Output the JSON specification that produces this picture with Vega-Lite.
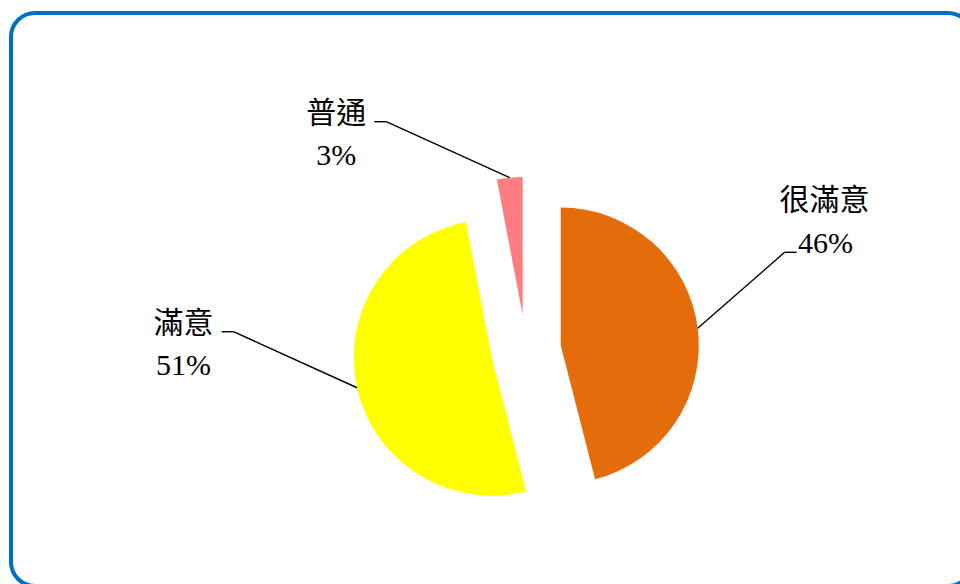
{
  "$schema": "https://vega.github.io/schema/vega-lite/v6.json",
  "width": 961,
  "height": 573,
  "autosize": {"type": "none"},
  "padding": {"left": 11, "top": 13, "right": 0, "bottom": 0},
  "background": "white",
  "config": {"view": {"stroke": "#0070C0", "strokeWidth": 4, "cornerRadius": 24}},
  "data": {"values": [
    {"category": "很滿意", "pct": 46},
    {"category": "滿意", "pct": 51},
    {"category": "普通", "pct": 3}
  ]},
  "transform": [
    {"window": [{"op": "row_number", "as": "idx"}]},
    {"joinaggregate": [{"op": "sum", "field": "pct", "as": "total"}]},
    {"window": [{"op": "sum", "field": "pct", "as": "cum"}], "sort": [{"field": "idx"}], "frame": [null, 0]},
    {"calculate": "datum.cum - datum.pct", "as": "start"},
    {"calculate": "2*PI*(datum.cum - datum.pct/2)/datum.total", "as": "mid"},
    {"calculate": "sin(datum.mid)", "as": "sx"},
    {"calculate": "cos(datum.mid)", "as": "sy"},
    {"calculate": "datum.sx >= 0 ? 1 : -1", "as": "side"},
    {"calculate": "0.254*datum.sx", "as": "ex"},
    {"calculate": "0.254*datum.sy", "as": "ey"},
    {"calculate": "1.254*datum.sx", "as": "px"},
    {"calculate": "1.254*datum.sy", "as": "py"},
    {"calculate": "datum.px + (datum.side > 0 ? 0.630 : -0.895)", "as": "qx"},
    {"calculate": "datum.py + (datum.side > 0 ? 0.551 : 0.406)", "as": "qy"},
    {"calculate": "datum.qx + datum.side*0.087", "as": "lx"},
    {"calculate": "datum.pct + '%'", "as": "pctLabel"}
  ],
  "layer": [
    {
      "mark": {"type": "arc", "outerRadius": 138, "stroke": null},
      "encoding": {
        "theta": {"field": "start", "type": "quantitative", "stack": null, "scale": {"domain": [0, 100]}},
        "theta2": {"field": "cum"},
        "x": {"field": "ex", "type": "quantitative", "stack": null, "axis": null, "scale": {"domain": [-3.732, 3.232], "nice": false, "zero": false}},
        "y": {"field": "ey", "type": "quantitative", "stack": null, "axis": null, "scale": {"domain": [-1.710, 2.442], "nice": false, "zero": false}},
        "color": {"field": "category", "type": "nominal", "legend": null, "scale": {"domain": ["很滿意", "滿意", "普通"], "range": ["#E46C0A", "#FFFF00", "#FF7C80"]}}
      }
    },
    {
      "mark": {"type": "rule", "color": "black", "strokeWidth": 1.4},
      "encoding": {
        "x": {"field": "px", "type": "quantitative", "stack": null, "axis": null, "scale": {"domain": [-3.732, 3.232], "nice": false, "zero": false}},
        "y": {"field": "py", "type": "quantitative", "stack": null, "axis": null, "scale": {"domain": [-1.710, 2.442], "nice": false, "zero": false}},
        "x2": {"field": "qx"},
        "y2": {"field": "qy"}
      }
    },
    {
      "mark": {"type": "rule", "color": "black", "strokeWidth": 1.4},
      "encoding": {
        "x": {"field": "qx", "type": "quantitative", "stack": null, "axis": null, "scale": {"domain": [-3.732, 3.232], "nice": false, "zero": false}},
        "y": {"field": "qy", "type": "quantitative", "stack": null, "axis": null, "scale": {"domain": [-1.710, 2.442], "nice": false, "zero": false}},
        "x2": {"field": "lx"}
      }
    },
    {
      "transform": [{"filter": "datum.side > 0"}],
      "mark": {"type": "text", "align": "center", "baseline": "middle", "dx": 28, "dy": -51, "font": "Noto Sans CJK TC", "fontSize": 30, "color": "black"},
      "encoding": {
        "x": {"field": "lx", "type": "quantitative", "stack": null, "axis": null, "scale": {"domain": [-3.732, 3.232], "nice": false, "zero": false}},
        "y": {"field": "qy", "type": "quantitative", "stack": null, "axis": null, "scale": {"domain": [-1.710, 2.442], "nice": false, "zero": false}},
        "text": {"field": "category"}
      }
    },
    {
      "transform": [{"filter": "datum.side > 0"}],
      "mark": {"type": "text", "align": "center", "baseline": "middle", "dx": 29, "dy": -8, "font": "Liberation Serif", "fontSize": 30, "color": "black"},
      "encoding": {
        "x": {"field": "lx", "type": "quantitative", "stack": null, "axis": null, "scale": {"domain": [-3.732, 3.232], "nice": false, "zero": false}},
        "y": {"field": "qy", "type": "quantitative", "stack": null, "axis": null, "scale": {"domain": [-1.710, 2.442], "nice": false, "zero": false}},
        "text": {"field": "pctLabel"}
      }
    },
    {
      "transform": [{"filter": "datum.side < 0"}],
      "mark": {"type": "text", "align": "center", "baseline": "middle", "dx": -38, "dy": -8, "font": "Noto Sans CJK TC", "fontSize": 30, "color": "black"},
      "encoding": {
        "x": {"field": "lx", "type": "quantitative", "stack": null, "axis": null, "scale": {"domain": [-3.732, 3.232], "nice": false, "zero": false}},
        "y": {"field": "qy", "type": "quantitative", "stack": null, "axis": null, "scale": {"domain": [-1.710, 2.442], "nice": false, "zero": false}},
        "text": {"field": "category"}
      }
    },
    {
      "transform": [{"filter": "datum.side < 0"}],
      "mark": {"type": "text", "align": "center", "baseline": "middle", "dx": -38, "dy": 34, "font": "Liberation Serif", "fontSize": 30, "color": "black"},
      "encoding": {
        "x": {"field": "lx", "type": "quantitative", "stack": null, "axis": null, "scale": {"domain": [-3.732, 3.232], "nice": false, "zero": false}},
        "y": {"field": "qy", "type": "quantitative", "stack": null, "axis": null, "scale": {"domain": [-1.710, 2.442], "nice": false, "zero": false}},
        "text": {"field": "pctLabel"}
      }
    }
  ]
}
